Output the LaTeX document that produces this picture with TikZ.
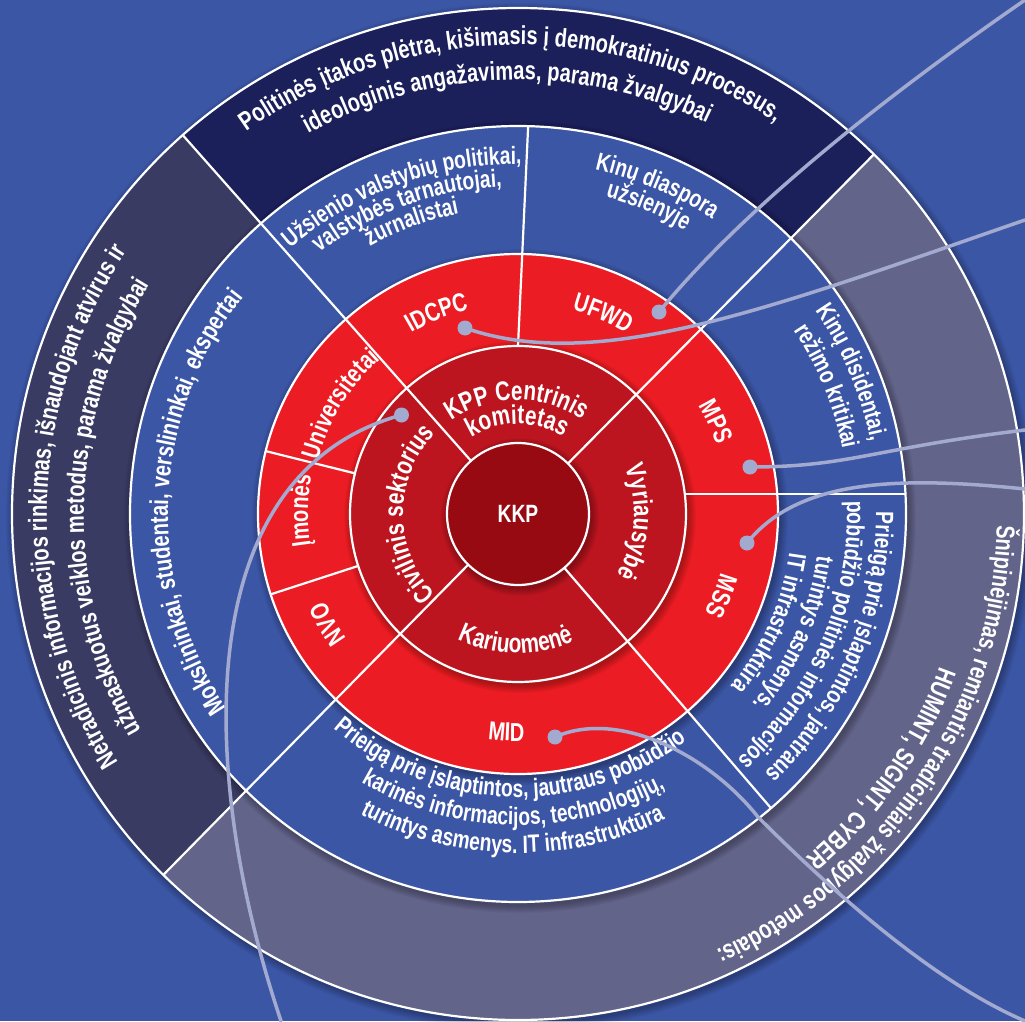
\documentclass[tikz,border=0pt]{standalone}
\usepackage{fontspec}
\setmainfont{Liberation Sans}[FakeStretch=0.77]
\usetikzlibrary{decorations.text}

\definecolor{bgblue}{HTML}{3C56A6}
\definecolor{navyband}{HTML}{1B1F5A}
\definecolor{slateband}{HTML}{3A3B63}
\definecolor{greyband}{HTML}{63648A}
\definecolor{redring}{HTML}{EC1C24}
\definecolor{darkring}{HTML}{BC1520}
\definecolor{corered}{HTML}{980A12}
\definecolor{linkcol}{HTML}{A3AAD0}

\tikzset{sep/.style={draw=white,line width=2.2pt},
	halo/.style={fill=black,opacity=0.035},
	ringtext/.style={decorate,decoration={text along path,text align=center,text color=white,text={#1}}},
	link/.style={draw=linkcol,line width=3.5pt,line cap=round},
	dot/.style={circle,fill=linkcol,minimum size=15pt,inner sep=0pt,outer sep=0pt}}

\newcommand{\bandfont}{\bfseries\fontsize{26}{26}\selectfont}
\newcommand{\sectfont}{\bfseries\fontsize{25}{25}\selectfont}
\newcommand{\unitfont}{\bfseries\fontsize{26}{26}\selectfont}
\newcommand{\corefont}{\bfseries\fontsize{27}{27}\selectfont}
\newcommand{\kkpfont}{\bfseries\fontsize{25}{25}\selectfont}
% text on an arc, read clockwise (letters face outwards)
\newcommand{\cwtext}[4]{\path[ringtext={|#3|#4}] (#1+80:#2) arc[start angle=#1+80,end angle=#1-80,radius=#2pt];}
% text on an arc, read anticlockwise (letters face inwards)
\newcommand{\ccwtext}[4]{\path[ringtext={|#3|#4}] (#1-80:#2) arc[start angle=#1-80,end angle=#1+80,radius=#2pt];}

\begin{document}
\begin{tikzpicture}[x=1pt,y=1pt]
\useasboundingbox (-518,-507) rectangle (507,514);
\clip (-518,-507) rectangle (507,514);
\fill[bgblue] (-518,-507) rectangle (507,514);

% outer band
\foreach \k in {1,...,8} {
	\fill[halo] (2,-3) circle[radius=506pt+\k pt];
};
\fill[greyband] (0,0) circle[radius=506pt];
\fill[navyband] (0,0) -- (45.3:506) arc[start angle=45.3,end angle=131.5,radius=506pt] -- cycle;
\fill[slateband] (0,0) -- (131.5:506) arc[start angle=131.5,end angle=225.5,radius=506pt] -- cycle;
% rings, each with a soft shadow
\foreach \r/\c in {388/bgblue,260/redring,168/darkring,71/corered} {
	\foreach \k in {1,...,8} {
		\fill[halo] (2,-3) circle[radius=\r pt+\k pt];
	};
	\fill[\c] (0,0) circle[radius=\r pt];
};

% separators
\foreach \a in {45.3,131.5,225.5} {
	\draw[sep] (\a:71) -- (\a:506);
};
\draw[sep] (-49.3:71) -- (-49.3:388);
\draw[sep] (90:168) -- (88.5:388);
\draw[sep] (166.8,20) -- (387.5,20);
\foreach \a in {166,198} {
	\draw[sep] (\a:168) -- (\a:260);
};
\foreach \r in {71,168,260,388,506} {
	\draw[sep] (0,0) circle[radius=\r pt];
};

% outer band texts
\cwtext{91}{469}{\bandfont}{Politinės įtakos plėtra, kišimasis į demokratinius procesus,}
\cwtext{91.5}{434}{\bandfont}{ideologinis angažavimas, parama žvalgybai}
\cwtext{179}{471}{\bandfont}{Netradicinis informacijos rinkimas, išnaudojant atvirus ir}
\cwtext{179}{434}{\bandfont}{užmaskuotus veiklos metodus, parama žvalgybai}
\cwtext{-33.5}{479}{\bandfont}{Šnipinėjimas, remiantis tradiciniais žvalgybos metodais:}
\cwtext{-35}{448}{\bandfont}{HUMINT, SIGINT, CYBER}

% blue ring texts
\cwtext{110}{350}{\sectfont}{Užsienio valstybių politikai,}
\cwtext{110}{328}{\sectfont}{valstybės tarnautojai,}
\cwtext{110}{306}{\sectfont}{žurnalistai}
\cwtext{67}{353}{\sectfont}{Kinų diaspora}
\cwtext{67}{329}{\sectfont}{užsienyje}
\cwtext{23}{360}{\sectfont}{Kinų disidentai,}
\cwtext{22.5}{331}{\sectfont}{režimo kritikai}
\cwtext{-23}{358}{\sectfont}{Prieigą prie įslaptintos, jautraus}
\cwtext{-23}{329}{\sectfont}{pobūdžio politinės informacijos}
\cwtext{-23.5}{302}{\sectfont}{turintys asmenys.}
\cwtext{-23.5}{274}{\sectfont}{IT infrastruktūra}
\ccwtext{268}{283}{\sectfont}{Prieigą prie įslaptintos, jautraus pobūdžio}
\ccwtext{269}{311}{\sectfont}{karinės informacijos, technologijų,}
\ccwtext{269}{339}{\sectfont}{turintys asmenys. IT infrastruktūra}
\cwtext{177.7}{350}{\bandfont}{Mokslininkai, studentai, verslininkai, ekspertai}

% red ring texts
\cwtext{112}{210}{\unitfont}{IDCPC}
\cwtext{67}{211}{\unitfont}{UFWD}
\cwtext{25}{210}{\unitfont}{MPS}
\cwtext{-22}{211}{\unitfont}{MSS}
\ccwtext{267}{227}{\unitfont}{MID}
\cwtext{210}{212}{\unitfont}{NVO}
\cwtext{179}{210}{\unitfont}{Įmonės}
\cwtext{148.3}{207}{\unitfont}{Universitetai}

% inner ring texts
\cwtext{90.5}{114}{\corefont}{KPP Centrinis}
\cwtext{90.5}{90}{\corefont}{komitetas}
\cwtext{-4}{116}{\corefont}{Vyriausybė}
\cwtext{180}{115}{\corefont}{Civilinis sektorius}
\ccwtext{269}{139}{\corefont}{Kariuomenė}

\node[text=white,font=\kkpfont] (kkp) at (0,0) {KKP};

% connectors
\node[dot] (pUFWD) at (141,202) {};
\node[dot] (pIDCPC) at (-53,186) {};
\node[dot] (pMPS) at (232,47) {};
\node[dot] (pMSS) at (229,-29) {};
\node[dot] (pCiv) at (-116.5,99) {};
\node[dot] (pMID) at (37,-223) {};
\coordinate (eUFWD) at (507,514);
\coordinate (eIDCPC) at (507,294);
\coordinate (eMPS) at (507,84);
\coordinate (eMSS) at (507,25);
\coordinate (eCiv) at (-237,-507);
\coordinate (eMID) at (507,-507);

\draw[link] (pUFWD.center) .. controls (231,312) and (381,427) .. (eUFWD);
\draw[link] (pIDCPC.center) .. controls (80,140) and (250,205) .. (eIDCPC);
\draw[link] (pMPS.center) .. controls (332,47) and (357,66) .. (eMPS);
\draw[link] (pMSS.center) .. controls (280,35) and (380,38) .. (eMSS);
\draw[link] (pCiv.center) .. controls (-330,40) and (-320,-260) .. (eCiv);
\draw[link] (pMID.center) .. controls (100,-195) and (190,-240) .. (240,-303) .. controls (350,-413) and (437,-477) .. (eMID);

\end{tikzpicture}
\end{document}
